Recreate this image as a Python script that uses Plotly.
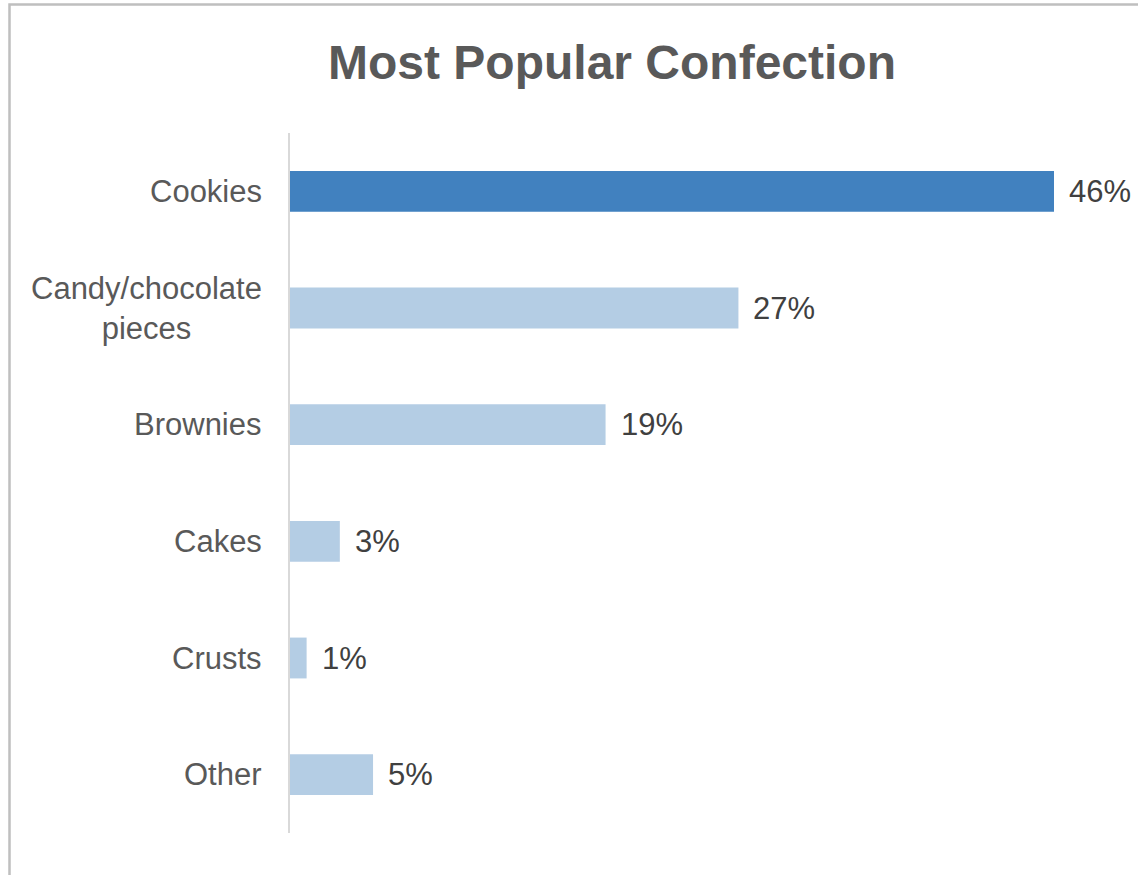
import plotly.graph_objects as go

# Survey results: share of respondents naming each confection
categories = ["Cookies", "Candy/chocolate<br>pieces", "Brownies", "Cakes", "Crusts", "Other"]
shares = [46, 27, 19, 3, 1, 5]
labels = ["46%", "27%", "19%", "3%", "1%", "5%"]

HIGHLIGHT = "#4181BF"
MUTED = "#B4CDE4"
bar_colors = [HIGHLIGHT if i == 0 else MUTED for i in range(len(categories))]

W, H = 1138, 875
ML, MR, MT, MB = 290, 48, 133, 42
plot_w = W - ML - MR
plot_h = H - MT - MB

FONT = "Liberation Sans, Arial"

fig = go.Figure(
    go.Bar(
        x=shares,
        y=categories,
        orientation="h",
        marker=dict(color=bar_colors, line=dict(width=0)),
        hoverinfo="skip",
    )
)


def px_x(px):
    return (px - ML) / plot_w


def px_y(py):
    return (H - MB - py) / plot_h


# Value labels just past the end of each bar
for cat, val, lab in zip(categories, shares, labels):
    fig.add_annotation(
        x=val, y=cat, text=lab, showarrow=False,
        xanchor="left", yanchor="middle", xshift=13,
        font=dict(family=FONT, size=31, color="#404040"),
    )

# Category labels, centre-aligned when they wrap onto two lines
for cat in categories:
    fig.add_annotation(
        x=px_x(264), xref="paper", y=cat, yref="y", text=cat, showarrow=False,
        xanchor="right", yanchor="middle", align="center",
        font=dict(family=FONT, size=31, color="#595959"),
    )

# Chart frame
fig.add_shape(
    type="rect", xref="paper", yref="paper",
    x0=px_x(9.5), x1=px_x(1160), y0=px_y(4.5), y1=px_y(900),
    line=dict(color="#BFBFBF", width=2.5), fillcolor="rgba(0,0,0,0)",
)

fig.update_layout(
    width=W, height=H,
    margin=dict(l=ML, r=MR, t=MT, b=MB),
    paper_bgcolor="white", plot_bgcolor="white",
    bargap=0.65,
    showlegend=False,
    title=dict(
        text="<b>Most Popular Confection</b>",
        x=612 / W, xref="container", xanchor="center",
        y=1 - 62 / H, yref="container", yanchor="middle",
        font=dict(family=FONT, size=48, color="#595959"),
    ),
    xaxis=dict(
        range=[0, plot_w / ((1054 - 290) / 46)],
        visible=False, showgrid=False, zeroline=False, fixedrange=True,
    ),
    yaxis=dict(
        autorange="reversed",
        showline=True, linecolor="#D9D9D9", linewidth=2,
        showgrid=False, zeroline=False, ticks="",
        showticklabels=False,
    ),
)

fig.write_html("out.html")
